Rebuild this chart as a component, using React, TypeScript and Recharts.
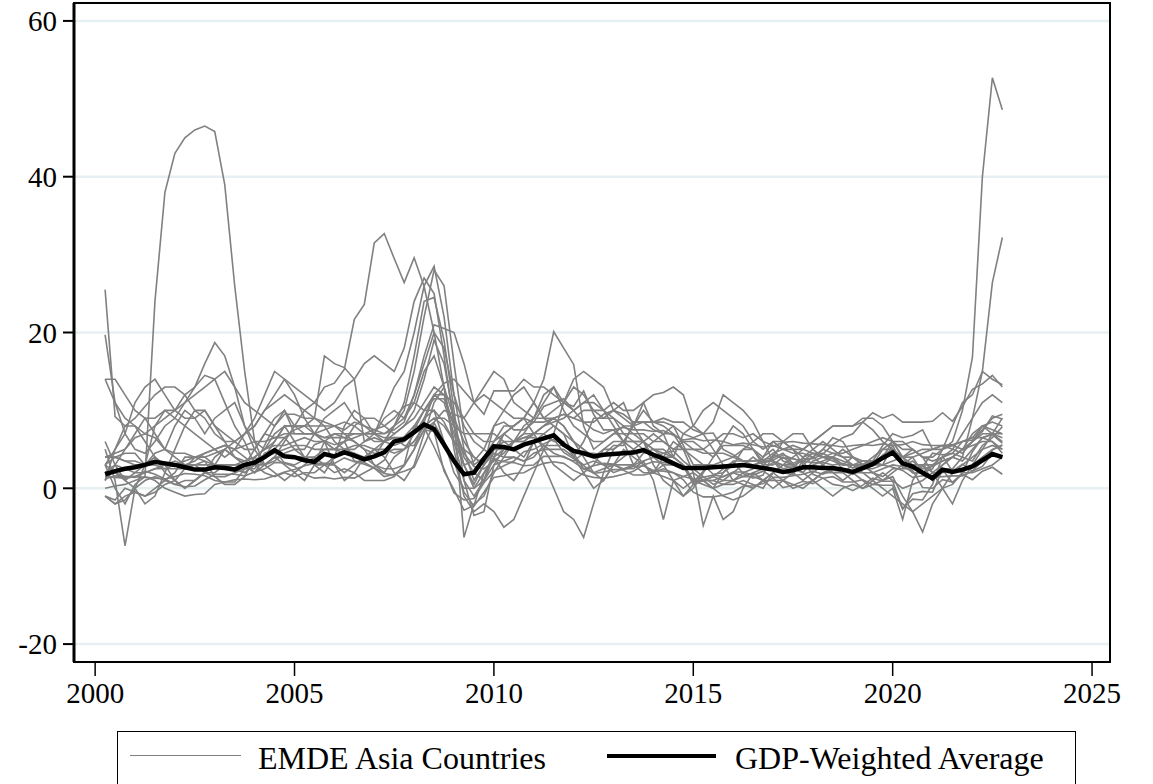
import { LineChart, Line, XAxis, YAxis, CartesianGrid, ReferenceArea } from "recharts";

// quarterly observations, 2000Q2 .. 2022Q4 (plotted at year + quarter offset)
const quarters = Array.from({ length: 91 }, (_, i) => 2000.25 + i * 0.25);
const xTicks = [2000, 2005, 2010, 2015, 2020, 2025];
const yTicks = [-20, 0, 20, 40, 60];
const xDomain: [number, number] = [1999.47, 2025.45];
const yDomain: [number, number] = [-22.3, 62.3];

// EMDE Asia countries, year-on-year inflation (%)
const emde01 = [3, 0, -2, 0.5, 1.5, 24, 38, 43, 45, 46, 46.5, 45.8, 39, 26, 15, 6, 3, 4, 6, 8, 10, 11, 13, 13.5, 15.3, 21.7, 23.6, 31.5, 32.7, 29.5, 26.4, 29.6, 25.9, 20, 13, 6, 1, -1, 1, 4, 7, 8, 9, 7, 5, 3, 2, 1, 2, 3, 5, 5, 6, 6, 5, 6, 7, 8, 7, 8, 10, 11, 10, 9, 8, 6, 5, 6, 5, 5, 5, 6, 7, 8, 8, 8, 9, 9, 8, 6, 4, 2, 2, 3, 4, 5, 7, 9, 11, 12, 11];
const emde02 = [3, 5, 7, 11, 13, 14, 12, 10, 9, 9, 10, 8, 6, 6, 7, 8, 10, 12, 14, 13, 12, 11, 10, 11, 13, 14, 16, 17, 16, 15, 18, 24, 27, 25, 17, 8, 3, 0, 1, 5, 5, 6, 6, 7, 7, 6, 6, 4, 6, 9, 9, 9, 7, 6, 6, 4, 3, 3, 3, 1, 0.5, 0, 2, 3, 5, 5, 4, 6, 6, 7, 7, 5, 4, 4, 3, 4, 3, 3, 5, 6, 4, 5, 4, 4, 5, 6, 10, 16.8, 40, 52.7, 48.6];
const emde03 = [25.5, 9.2, 8, 8, 7, 8, 9, 10, 11, 12, 13, 14, 15, 13, 11, 10, 9, 8, 10, 7, 7, 7, 6, 7, 7, 6, 5, 4.5, 4.5, 5, 5, 7, 9, 10, 6, 2, 0, 0, 2, 4, 5, 6, 6, 7, 8, 9, 8, 6, 5, 4, 5, 6, 6, 6, 6, 5, 4, 4, 3, 1, 1, 1, 1.5, 2, 1.5, 1.5, 1, 1, 1, 0, 0.5, 1, 2, 2, 2, 3, 3.5, 3.5, 4, 6, 6, 5, 4, 2, 2, 2.5, 4, 9, 15, 26.4, 32.2];
const emde04 = [-1, -2, -1, -0.5, -1, 0, 1, 2, 4, 4, 4, 3, 3, 3, 3, 5, 7, 9, 10, 8, 8, 8, 8, 8, 7, 7, 7, 7, 7, 8, 10, 15, 22, 28, 26, 16, 7, 3, 4, 6, 8, 8, 9, 11, 14, 20.1, 18, 15.9, 8, 5, 6, 7, 7, 7, 6, 5, 5, 4, 3, 1, 1, 1, 0.5, 1, 2, 2.5, 4, 5, 3.5, 3, 2.5, 3, 3.5, 4, 3.5, 3, 2.5, 2.5, 3, 5.5, 3, 3, 3, 1, 2.5, 2.5, 2, 2, 2.5, 3, 4];
const emde05 = [14, 11, 9, 8, 6, 4, 2, 1, 0, 1, 2, 3, 5, 6, 7, 8, 10, 11, 12, 11, 10, 9, 8, 6, 5, 5, 6, 7, 10, 13, 15, 20, 26, 28.5, 22, 12, 5, 1, 3, 8, 10, 12, 13, 11, 9, 10, 11, 14, 15, 14, 13, 10, 9, 8, 11, 12, 12.3, 13, 12, 8, 7, 5, 3, 1, 0.5, 0, 1, 2, 3, 4, 5, 6, 7, 8, 8, 8, 8.5, 7.5, 6, 5, 3, 2, 2, 2.5, 5, 8, 11, 12, 15, 14, 13.3];
const emde06 = [4, 4.5, 5, 6.5, 7, 6.5, 5, 4, 3, 3, 3, 3, 3, 3, 3.5, 4, 5, 6, 8, 8, 8, 7, 6.5, 7, 6.5, 6, 5, 3, 2.5, 2.5, 3, 5, 9, 12, 11, 7, 3, 0.5, 3, 4.5, 4, 4, 3.5, 4.5, 5, 5, 5, 4, 3, 3.5, 3, 3, 2.5, 2.5, 3.5, 4, 4.5, 4.8, 3.5, 2.5, 1.5, 0.5, 1, 1, 1.5, 2, 2.5, 3.3, 3, 3, 3.5, 4, 5, 6.5, 6, 4, 3, 2, 1.5, 2.5, 2.5, 2.5, 2.8, 4.5, 4.3, 4.5, 4, 3.5, 5.5, 6.5, 7.9];
const emde07 = [1, 5, 8, 9, 10.5, 12, 13, 13, 12, 10, 10, 8, 7, 6, 5, 5, 7, 6.5, 6.5, 7.5, 8, 9, 17, 16, 15.5, 14, 6, 6.5, 6, 6.5, 6.5, 7.5, 10, 11.5, 11.5, 8, 4.5, 2.8, 2.5, 3.5, 4.5, 6, 6.5, 6.5, 5.5, 4.5, 4, 3.5, 4.5, 4.5, 4.3, 5.5, 5.5, 8.5, 8.5, 7.5, 7, 4, 7, 6.5, 7, 7.1, 5, 4.3, 3.5, 3, 3.3, 3.6, 4.3, 3.8, 3.5, 3.3, 3.3, 3, 3.2, 2.6, 3.1, 3.5, 3, 2.7, 2.3, 1.4, 1.6, 1.4, 1.5, 1.6, 1.6, 2.2, 3.5, 4.9, 5.6];
const emde08 = [4, 4, 3.5, 3, 3, 4.5, 5, 4.5, 4.5, 4, 4, 4.5, 5, 4, 3.5, 4, 3, 4, 4, 4, 4, 4, 5, 5, 6, 6.5, 7, 7, 6.5, 6.5, 5.5, 5.5, 7.5, 8.5, 10, 9.5, 9, 11, 13, 15, 14, 11, 10, 9, 9, 9, 9.5, 9, 10, 10, 10, 11, 10, 10, 11, 8, 7, 7, 5, 5, 5, 4, 5.5, 5.5, 5.5, 5, 3.5, 3.5, 2, 1.8, 3.5, 4.5, 4.5, 3.8, 2.5, 2, 3, 3.5, 5.5, 7, 6.5, 6.8, 7.5, 5, 5.5, 5, 4.5, 6, 7, 7, 7];
const emde09 = [3, 4, 4.5, 4.5, 3, 3.5, 3, 3.5, 3, 3, 3.5, 3, 2.5, 2.5, 2, 3, 5.5, 8, 9.5, 9.5, 9, 9, 8.5, 8, 7.5, 8.5, 8, 7.5, 7, 7.5, 8.5, 12, 17, 21, 20.5, 20, 16, 11, 9.5, 12.5, 12.5, 12.5, 14, 13, 13, 12, 11, 10.5, 12.5, 9.5, 7.5, 7.5, 6, 8, 10, 8.5, 8.5, 8, 5.5, 3, 3, 1.8, 2, 3.5, 3.5, 3.5, 3.7, 3.9, 4.5, 3.2, 3.8, 3.8, 4.4, 5.6, 6.5, 7, 8.5, 9.7, 9, 9.5, 8.5, 8.5, 8.5, 8.6, 9.7, 8.6, 10.5, 12.7, 13.4, 14.5, 13];
const emde10 = [2, 2, 1.5, 1.5, 2, 2.5, 2.5, 3, 3.5, 4, 4.5, 5, 5.5, 5, 5.5, 6, 6, 6.5, 7, 7, 7, 7, 6.5, 6.5, 6.5, 7, 7, 7.5, 8, 9, 10.5, 11, 10, 10, 8.5, 6, 3, 3.5, 5, 8, 8.5, 7.5, 7.5, 8.5, 10.5, 11, 11.5, 10, 8.5, 7.5, 7, 7.5, 7.8, 7.5, 7.5, 7.3, 7.4, 6.8, 6.2, 6.4, 6.1, 6.2, 6, 5.6, 5.8, 5.6, 5.3, 5.4, 5.9, 6, 5.8, 5.7, 5.6, 5.5, 5.3, 5.5, 5.6, 5.5, 5.7, 5.5, 5.6, 6, 5.6, 5.5, 5.5, 5.6, 6, 6.2, 7.3, 9.3, 8.9];
const emde11 = [0, 0.3, 0.5, 1, 1.5, 1, 0, -0.5, -1, -0.8, -0.7, 0.5, 0.8, 0.8, 2.5, 2.5, 4.5, 5, 3.2, 2.8, 1.8, 1.3, 1.4, 1.2, 1.4, 1.3, 2, 2.7, 3.6, 6.1, 6.6, 8, 7.8, 5.3, 2.5, -0.6, -1.5, -1.3, 0.7, 2.2, 2.9, 3.5, 4.7, 5, 5.7, 6.3, 4.6, 3.8, 2.9, 1.9, 2.1, 2.4, 2.4, 2.8, 2.9, 2.3, 2.2, 2, 1.5, 1.2, 1.4, 1.7, 1.5, 2.1, 2.1, 1.7, 2.2, 1.4, 1.4, 1.6, 1.8, 2.2, 1.8, 2.3, 2.2, 1.8, 2.6, 2.9, 4.3, 5, 2.7, 2.3, 0.1, 0, 1.1, 0.8, 1.8, 1.1, 2.2, 2.7, 1.8];
const emde12 = [1.2, 1.6, 1.5, 1.4, 2.2, 1.8, 1.2, 0.5, 0.2, 0.3, 1.1, 1.8, 1.8, 1.8, 1.6, 2.1, 2.5, 3.3, 3.3, 3, 3.7, 5.6, 6.1, 5.6, 6, 3.5, 3.3, 2.6, 1.9, 1.7, 2.9, 5, 7.5, 7.3, 2.2, -0.2, -2.8, -2.2, 1.9, 3.7, 3.4, 3.3, 2.9, 3, 4.1, 4.1, 4.1, 3.4, 2.5, 2.9, 3.2, 3.1, 2.3, 1.7, 1.7, 2, 2.5, 2, 1.1, -0.5, -1.1, -1.1, -0.9, -0.5, 0.3, 0.3, 0.6, 1.3, 0.1, 0.4, 0.9, 0.6, 1.3, 1.5, 0.8, 0.8, 1.1, 0.5, 0.4, 0.4, -2.7, -0.7, -0.4, -0.5, 2.4, 0.7, 2, 4.7, 6.5, 6.9, 5.8];
const emde13 = [1.5, 1.4, 1.3, 1.5, 1.4, 1.3, 1.2, 1.5, 1.9, 1.8, 1.6, 1, 0.8, 1.1, 1.2, 1.1, 1.2, 1.6, 2.1, 2.4, 2.9, 3.2, 3.2, 3.2, 3.9, 3.4, 3.1, 2.6, 1.5, 1.8, 2.2, 2.7, 5.5, 8.4, 6, 3.5, -0.5, -2.3, -0.5, 1.4, 1.6, 1.9, 2, 2.7, 3.2, 3.4, 3.2, 2.3, 1.7, 1.4, 1.3, 1.5, 1.8, 2.2, 3, 3.4, 3.3, 3.2, 2.8, 0.7, 2.2, 3, 2.6, 3.4, 1.9, 1.3, 1.7, 4.3, 3.9, 3.8, 3.4, 1.8, 1.3, 0.5, 0.3, -0.3, 0.4, 1.3, 0.9, 0.9, -2.6, -1.4, -1.5, 0.5, 4.1, 2.2, 3.1, 2.2, 2.8, 4.5, 4];
const emde14 = [-1, -1.5, 0, -0.5, -1, -0.5, 0.5, 1, 2.5, 4, 3.5, 1.5, 0.5, 0.5, 1.5, 4, 5, 5.5, 5.5, 6, 6.5, 6, 6, 5, 4.5, 4.5, 4, 4, 6, 8, 11, 17, 24, 24.5, 19, 10, 1, -3.5, -3, 3, 3.5, 4, 3.5, 4, 5.5, 5.5, 5.5, 4.5, 2.5, 2, 2.5, 3, 3, 3, 4.5, 5, 4.5, 4, 3, 0.5, 1, 1.5, 2.5, 3, 3, 3, 3.5, 3.5, 2.5, 2.8, 2.5, 2.5, 2.5, 2.5, 2.5, 2, 2, 2, 2.5, 3, 2.8, 3.5, 2.5, 2.8, 3.5, 4, 3.5, 5, 6.5, 6, 4.5];
const emde15 = [2, 3, 2.5, 2, 2, 2.5, 3, 3, 3, 3.5, 4.5, 5, 5.5, 5, 4, 3, 3, 3.5, 4.5, 5, 5, 7, 7.5, 8, 8.5, 8, 7, 6, 6, 5.5, 6, 7, 8.5, 12, 13.5, 14, 12.5, 11, 12, 11, 10, 9, 9, 8.5, 8.5, 9, 9.5, 9, 8.5, 8.5, 9.5, 10, 9.5, 8.5, 8.5, 8.5, 9, 8.5, 8.5, 7.5, 7, 8.5, 12, 11, 10, 8.5, 6, 3.5, 3, 2.5, 4, 4.5, 4, 4.5, 4.5, 5, 5.5, 6, 6.5, 6, 5, 5, 4, 3.5, 4, 4.5, 6, 6.5, 8, 8.5, 8];
const emde16 = [19.7, 11, 7, 5, 4.5, 6, 8, 9, 8, 7, 6, 5, 4, 5, 7, 9, 12, 15, 14, 12, 9, 7, 6, 5, 6, 8, 9, 9, 8, 7, 8, 10, 14, 19, 16, 9, -6.3, -2, -1, 2, 4, 6, 7, 9, 11, 13, 10, 8, 7, 6, 6, 7, 8, 7, 7, 6, 6, 5, 5, 4, 3, 3, 3.5, 4, 5, 6, 7, 7, 6, 5, 4, 5, 6, 5, 4, 3, 3, 4, 5, 5, 4, 3, 3, 3, 3.5, 4, 5, 6, 7.5, 9, 9.5];
const emde17 = [5, 1, -7.4, 0, 3, 8, 10, 9, 11, 13, 16, 18.7, 17, 13, 8, 5, 3, 2, 1, 2, 1, 3, 6, 3, 1, 2, 4, 5, 4, 2, 1, 3, 7, 11, 13, 9, 6, 4, 3, 5, 7, 8, 9, 11, 9, 8, 7, 4, 2, 0, 1, 3, 5, 4, 3, 2, 3, 1, -1, 0, 2, 4, 6, 8, 7, 5, 3, 4, 6, 5, 3, 4, 3, 4, 5, 4, 3, 2, 1, 2, 3, 4, 2, 1, 3, 4, 5, 6, 8, 7, 6];
const emde18 = [6, 3, 1, 0, -2, -1, 2, 5, 8, 10, 9, 7, 6, 4, 3, 2, 4, 6, 8, 6, 4, 3, 2, 4, 8, 10, 9, 7, 6, 8, 9, 11, 15, 17, 13, 5, -1, -3, -2, -3, -5, -4, -1, 2, 5, 7, 11, 13, 12, 10, 9, 10, 11, 8, 6, 3, 1, 0, -1, 0.5, 1, 0, -1, -1.5, -1, 0, 1, 2, 1, 0.5, 0, 1, 2, 2.5, 2, 1, 0, 1, 2, 1, 0, 0.5, 1, 2, 3, 4, 5, 7, 8, 7.5, 7];
const emde19 = [1, 3, 5, 7, 9, 7, 5, 8, 10, 9, 7, 9, 10, 11, 8, 6, 5, 7, 8, 8, 7, 7, 9, 10, 11, 9, 8, 7, 9, 10, 9, 12, 16, 20, 18, 12, 8, 6, 5, 4, 2, 1, 3, 6, 3, 0, -3, -4, -6.3, -2, 2, 5, 6, 5, 3, 2, 4, 6, 5, 2, -4.8, -1, -4, -3, 0, 2, 1, 0, 1, 2, 1, 2, 3, 2, 1, 2, 1, 0, -1, 0, -4, 1, 3, 2, 0, -2, 1, 3, 5, 7, 9];
const emde20 = [-1, -2, -1.5, 0, 1, 1.5, 1, 0.5, 1, 1, 2, 2, 3, 2.5, 2, 3, 4, 5, 6.5, 5, 4, 3, 3, 4, 5, 4.5, 3.5, 5, 6, 7, 8, 9, 11, 13, 12, 8, 4, 2, 1, 3, 5, 6, 8, 9, 12, 13, 11, 10, 11, 12, 10, 8, 6, 3, 2, 2, 1.5, 1, 0, 1, 1, 0, 0.5, 0.5, 1, 0.5, 0, 2, 3, 2.5, 2, 1, 0, -1, 0, 0.5, 0, 0.5, 1, 1.5, -1, -3, -5.6, -2, 0, 0.5, 2, 3, 4, 5, 5.5];
const emde21 = [4, 4, 3.5, 3.5, 3, 3, 2.5, 2.5, 2.5, 3, 2, 1.5, 1.5, 2, 2.5, 3.5, 4, 4.5, 5, 5.5, 5.5, 5, 5, 5, 5, 5.5, 5.5, 5, 5, 4.5, 5, 6, 8, 9, 9, 8, 7, 7, 7, 7, 6, 6, 6.5, 7, 8, 8.5, 9, 10, 11, 11, 10, 9, 8, 8, 8.5, 8.5, 8, 7, 6, 5, 4.5, 4.5, 4.5, 4, 3.5, 3.5, 3.5, 4.5, 5, 5.5, 5, 4.5, 4, 3.5, 3, 3, 3, 3, 3, 3.5, 4, 4, 4.5, 5, 5.5, 5.5, 6, 6.5, 6.5, 7, 6.5];
const emde22 = [3, 2, 1, 2, 3, 4, 3, 1, 0, 1, 2, 4, 5, 4, 3, 2, 3, 4, 3, 2, 3, 4, 3, 3, 2, 3, 4, 3, 2, 4, 5, 6, 8, 9, 8, 6, 5, 4, 3, 5, 6, 5, 4, 6, 7, 8, 7, 6, 5, 4, 3, 2, 2.5, 3, 3.5, 1, -4, 1, 1.5, 2, 1, 1.5, 1, 2, 3, 4, 3, 3, 4, 3, 2, 3.5, 4, 4, 3, 3, 2, 1, 0, -1, -2, -3, -2, -1, 0, 2, 3, 4, 5, 5.5, 5];
const emde23 = [14, 14, 12, 10, 9, 9, 10, 10, 12, 13, 14.5, 14, 11, 8, 6, 3, 2, 1.5, 2, 1.5, 2, 2, 3, 2, 2.5, 2, 1, 1, 1, 1.5, 3, 8, 10, 12, 12, 11, 9, 7, 6, 6, 7, 6, 7, 7, 8, 9, 8, 6, 4, 2, 1, 3, 4, 5, 6, 7, 6, 5, 6, 6, 5, 6, 7, 7, 6.5, 7, 6, 5.5, 5, 4.5, 4.5, 4, 5, 4.5, 4, 4, 3.5, 3.5, 4, 4.5, 4, 4.5, 5, 5, 5, 5.5, 5, 5.5, 6, 6, 5];

const countries = [
  emde01, emde02, emde03, emde04, emde05, emde06, emde07, emde08, emde09, emde10, emde11, emde12,
  emde13, emde14, emde15, emde16, emde17, emde18, emde19, emde20, emde21, emde22, emde23,
];

// GDP-weighted average
const gdpWeighted = [1.8, 2.2, 2.5, 2.7, 3.0, 3.4, 3.2, 3.0, 2.7, 2.4, 2.4, 2.7, 2.6, 2.4, 3.0, 3.3, 4.0, 4.9, 4.1, 4.0, 3.6, 3.4, 4.4, 4.1, 4.6, 4.2, 3.7, 4.1, 4.6, 6.0, 6.3, 7.2, 8.2, 7.6, 5.6, 3.5, 1.8, 2.0, 3.8, 5.4, 5.3, 5.0, 5.6, 6.0, 6.4, 6.8, 5.6, 4.8, 4.5, 4.1, 4.3, 4.4, 4.5, 4.6, 4.9, 4.3, 3.8, 3.2, 2.6, 2.6, 2.6, 2.7, 2.8, 2.9, 3.0, 2.8, 2.6, 2.4, 2.1, 2.3, 2.7, 2.7, 2.6, 2.6, 2.4, 2.1, 2.6, 3.1, 3.9, 4.6, 3.2, 2.8, 2.0, 1.3, 2.4, 2.1, 2.4, 2.8, 3.6, 4.4, 4.0];

[...countries, gdpWeighted].forEach((s, k) => {
  if (s.length !== quarters.length) throw new Error(`series ${k} has ${s.length} values`);
});

const rows = quarters.map((t, i) => {
  const row: Record<string, number> = { t, avg: gdpWeighted[i] };
  countries.forEach((s, k) => (row[`c${k}`] = s[i]));
  return row;
});

const font = "'Liberation Serif', 'Times New Roman', serif";
const tickStyle = { fontSize: 29, fill: "#000", fontFamily: font };

export default function App() {
  return (
    <div style={{ position: "relative", width: 1153, height: 784, overflow: "hidden", background: "#fff" }}>
      <style>{"html,body{margin:0;overflow:hidden;background:#fff}"}</style>
      <LineChart width={1153} height={784} data={rows} margin={{ top: 3, right: 43, bottom: 62, left: 0 }}>
        <CartesianGrid horizontal vertical={false} stroke="#e6eff1" strokeWidth={2.5} />
        <XAxis
          dataKey="t"
          type="number"
          domain={xDomain}
          ticks={xTicks}
          allowDataOverflow
          height={60}
          tick={tickStyle}
          tickSize={14}
          tickMargin={6}
          axisLine={{ stroke: "#000", strokeWidth: 2 }}
          tickLine={{ stroke: "#000", strokeWidth: 1.5 }}
        />
        <YAxis
          type="number"
          domain={yDomain}
          ticks={yTicks}
          allowDataOverflow
          width={74}
          tick={tickStyle}
          tickSize={11}
          tickMargin={6}
          axisLine={{ stroke: "#000", strokeWidth: 3 }}
          tickLine={{ stroke: "#000", strokeWidth: 2 }}
        />
        {countries.map((_, k) => (
          <Line
            key={k}
            dataKey={`c${k}`}
            type="linear"
            stroke="#808080"
            strokeWidth={1.6}
            dot={false}
            activeDot={false}
            isAnimationActive={false}
          />
        ))}
        <Line
          dataKey="avg"
          type="linear"
          stroke="#000"
          strokeWidth={4.5}
          dot={false}
          activeDot={false}
          isAnimationActive={false}
        />
        <ReferenceArea
          x1={xDomain[0]}
          x2={xDomain[1]}
          y1={yDomain[0]}
          y2={yDomain[1]}
          fill="none"
          stroke="#000"
          strokeWidth={2}
          ifOverflow="visible"
        />
      </LineChart>
      <div
        style={{
          position: "absolute",
          left: 117,
          top: 731,
          width: 957,
          height: 60,
          border: "1.5px solid #000",
          borderBottom: "none",
          fontFamily: font,
          fontSize: 32,
          color: "#000",
        }}
      >
        <div style={{ position: "absolute", left: 12, top: 23, width: 111, height: 0, borderTop: "1.6px solid #808080" }} />
        <div style={{ position: "absolute", left: 140, top: 8, whiteSpace: "nowrap", lineHeight: "36px" }}>EMDE Asia Countries</div>
        <div style={{ position: "absolute", left: 489, top: 22, width: 109, height: 0, borderTop: "4.5px solid #000" }} />
        <div style={{ position: "absolute", left: 617, top: 8, whiteSpace: "nowrap", lineHeight: "36px" }}>GDP-Weighted Average</div>
      </div>
    </div>
  );
}
